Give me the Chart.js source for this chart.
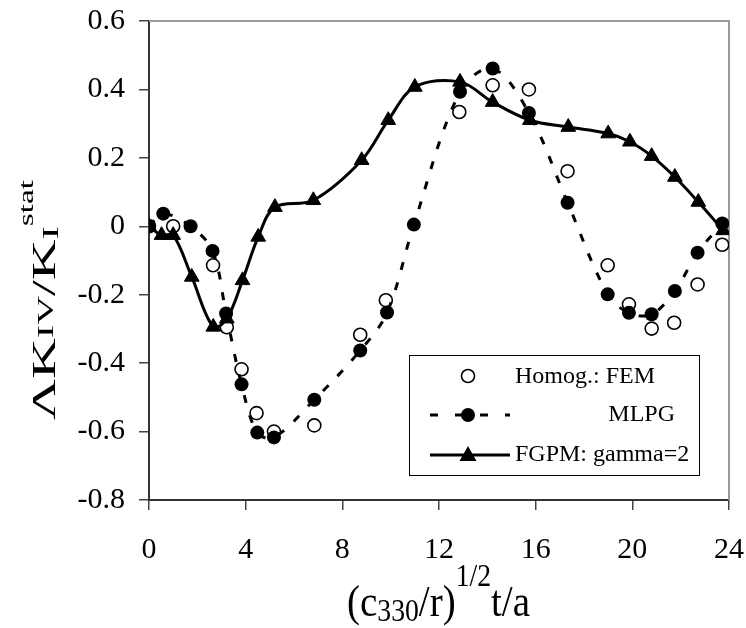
<!DOCTYPE html>
<html>
<head>
<meta charset="utf-8">
<script src="https://cdn.jsdelivr.net/npm/chart.js@4.4.1/dist/chart.umd.min.js"></script>
<style>
  html, body { margin: 0; padding: 0; background: #fff; }
  #wrap { width: 746px; height: 628px; }
</style>
</head>
<body>
<div id="wrap"><canvas id="chart" width="746" height="628"></canvas></div>
<script>
// ---- data ----
const femX = [0, 1.0, 2.65, 3.22, 3.83, 4.45, 5.17, 6.84, 8.74, 9.8, 12.84, 14.22, 15.72, 17.32, 18.98, 19.86, 20.8, 21.73, 22.7, 23.72];
const femY = [0, 0, -0.114, -0.295, -0.418, -0.546, -0.6, -0.582, -0.317, -0.216, 0.334, 0.412, 0.40, 0.161, -0.114, -0.228, -0.299, -0.282, -0.17, -0.054];

const mlpgX = [0, 0.59, 1.72, 2.63, 3.19, 3.83, 4.48, 5.17, 6.84, 8.74, 9.85, 10.96, 12.87, 14.22, 15.72, 17.32, 18.98, 19.86, 20.8, 21.76, 22.7, 23.72];
const mlpgY = [0, 0.037, 0, -0.072, -0.255, -0.462, -0.603, -0.617, -0.507, -0.363, -0.252, 0.005, 0.393, 0.461, 0.331, 0.069, -0.199, -0.253, -0.257, -0.189, -0.077, 0.008];

const fgpmX = [0, 0.52, 1.0, 1.77, 2.66, 3.22, 3.87, 4.52, 5.21, 6.8, 8.8, 9.9, 11.0, 12.87, 14.22, 15.76, 17.35, 19.0, 19.9, 20.8, 21.76, 22.73, 23.76];
const fgpmY = [0, -0.026, -0.026, -0.148, -0.294, -0.27, -0.158, -0.031, 0.056, 0.076, 0.193, 0.31, 0.407, 0.422, 0.363, 0.31, 0.29, 0.271, 0.247, 0.205, 0.144, 0.071, -0.012];

const legendLabels = ['Homog.: FEM', 'MLPG', 'FGPM: gamma=2'];

const SERIF = '"Liberation Serif", "Times New Roman", serif';

function pts(xs, ys) {
    return xs.map((x, i) => ({ x: x, y: ys[i] }));
}

// draws a run of text pieces [text, sizeFactor, baselineShift] starting at x=0 on the current baseline
function drawPieces(ctx, pieces, base) {
    let x = 0;
    pieces.forEach(p => {
        ctx.font = Math.round(base * p[1]) + 'px ' + SERIF;
        ctx.fillText(p[0], x, p[2]);
        x += ctx.measureText(p[0]).width;
    });
    return x;
}
function piecesWidth(ctx, pieces, base) {
    let w = 0;
    pieces.forEach(p => {
        ctx.font = Math.round(base * p[1]) + 'px ' + SERIF;
        w += ctx.measureText(p[0]).width;
    });
    return w;
}

const decor = {
    id: 'decor',
    beforeDatasetsDraw(chart) {
        const ctx = chart.ctx;
        const a = chart.chartArea;
        // light frame on top and right of plot area
        ctx.save();
        ctx.strokeStyle = '#9a9a9a';
        ctx.lineWidth = 2;
        ctx.beginPath();
        ctx.moveTo(a.left, a.top);
        ctx.lineTo(a.right, a.top);
        ctx.lineTo(a.right, a.bottom);
        ctx.stroke();
        ctx.restore();
    },
    afterDraw(chart) {
        const ctx = chart.ctx;
        ctx.save();
        ctx.fillStyle = '#000';
        ctx.textBaseline = 'alphabetic';
        ctx.textAlign = 'left';

        // x axis title
        const xt = [['(c', 1, 0], ['330', 0.72, 4], ['/r)', 1, 0], ['1/2', 0.72, -26], ['t/a', 1, 0]];
        const xw = piecesWidth(ctx, xt, 38);
        ctx.save();
        ctx.translate(347, 616);
        ctx.scale(183 / xw, 1.15);
        drawPieces(ctx, xt, 38);
        ctx.restore();

        // y axis title, rotated
        const yt = [['\u039BK', 1, 0], ['IV', 0.7, -2], ['/K', 1, 0], ['I', 0.7, 3], ['stat', 0.6, -22]];
        const yw = piecesWidth(ctx, yt, 34);
        ctx.save();
        ctx.translate(55, 420);
        ctx.rotate(-Math.PI / 2);
        ctx.scale(240 / yw, 1);
        drawPieces(ctx, yt, 34);
        ctx.restore();

        // legend box
        const lx = 409, ly = 355, lw = 290, lh = 120;
        ctx.fillStyle = '#fff';
        ctx.fillRect(lx, ly, lw, lh);
        ctx.strokeStyle = '#000';
        ctx.lineWidth = 1;
        ctx.strokeRect(lx + 0.5, ly + 0.5, lw, lh);

        const mx = 468;
        const rows = [376, 415, 455];
        // row 1: open circle
        ctx.beginPath();
        ctx.arc(mx, rows[0], 6.5, 0, Math.PI * 2);
        ctx.fillStyle = '#fff';
        ctx.fill();
        ctx.lineWidth = 1.6;
        ctx.strokeStyle = '#000';
        ctx.stroke();
        // row 2: dashed line + filled circle
        ctx.beginPath();
        ctx.setLineDash([8, 17]);
        ctx.lineWidth = 3;
        ctx.moveTo(430, rows[1]);
        ctx.lineTo(510, rows[1]);
        ctx.stroke();
        ctx.setLineDash([]);
        ctx.beginPath();
        ctx.arc(mx, rows[1], 7, 0, Math.PI * 2);
        ctx.fillStyle = '#000';
        ctx.fill();
        // row 3: solid line + triangle
        ctx.beginPath();
        ctx.lineWidth = 3;
        ctx.moveTo(430, rows[2]);
        ctx.lineTo(510, rows[2]);
        ctx.stroke();
        ctx.beginPath();
        ctx.moveTo(mx, rows[2] - 9);
        ctx.lineTo(mx + 8.5, rows[2] + 6);
        ctx.lineTo(mx - 8.5, rows[2] + 6);
        ctx.closePath();
        ctx.fill();

        ctx.font = '24px ' + SERIF;
        ctx.fillStyle = '#000';
        ctx.fillText(legendLabels[0], 515, 383);
        ctx.textAlign = 'right';
        ctx.fillText(legendLabels[1], 675, 421);
        ctx.textAlign = 'left';
        ctx.fillText(legendLabels[2], 515, 461);
        ctx.restore();
    }
};

const ctx = document.getElementById('chart').getContext('2d');
new Chart(ctx, {
    type: 'scatter',
    data: {
        datasets: [
            {
                label: legendLabels[2],
                data: pts(fgpmX, fgpmY),
                showLine: true,
                borderColor: '#000',
                borderWidth: 3,
                tension: 0.35,
                pointStyle: 'triangle',
                pointRadius: 8.5,
                pointBackgroundColor: '#000',
                pointBorderColor: '#000',
                pointBorderWidth: 1,
                order: 0
            },
            {
                label: legendLabels[1],
                data: pts(mlpgX, mlpgY),
                showLine: true,
                borderColor: '#000',
                borderWidth: 3,
                borderDash: [8, 13],
                tension: 0.35,
                pointStyle: 'circle',
                pointRadius: 7,
                pointBackgroundColor: '#000',
                pointBorderColor: '#000',
                pointBorderWidth: 0,
                order: 1
            },
            {
                label: legendLabels[0],
                data: pts(femX, femY),
                showLine: false,
                pointStyle: 'circle',
                pointRadius: 6.5,
                pointBackgroundColor: '#fff',
                pointBorderColor: '#000',
                pointBorderWidth: 1.6,
                order: 2
            }
        ]
    },
    options: {
        responsive: false,
        devicePixelRatio: 1,
        animation: false,
        layout: { padding: { top: 21, right: 17, left: 0, bottom: 0 } },
        plugins: {
            legend: { display: false },
            tooltip: { enabled: false }
        },
        scales: {
            x: {
                type: 'linear',
                min: 0,
                max: 24,
                afterFit: (s) => { s.height = 128; s.paddingLeft = 0; s.paddingRight = 0; },
                ticks: {
                    stepSize: 4,
                    color: '#000',
                    padding: 22,
                    font: { family: SERIF, size: 30 }
                },
                grid: { drawOnChartArea: false, tickLength: 10, color: '#444', lineWidth: 1.5 },
                border: { color: '#333', width: 2 }
            },
            y: {
                type: 'linear',
                min: -0.8,
                max: 0.6,
                afterFit: (s) => { s.width = 149; s.paddingTop = 0; s.paddingBottom = 0; },
                ticks: {
                    stepSize: 0.2,
                    color: '#000',
                    padding: 14,
                    font: { family: SERIF, size: 30 },
                    callback: (v) => String(Number(v.toFixed(1)))
                },
                grid: { drawOnChartArea: false, tickLength: 10, color: '#444', lineWidth: 1.5 },
                border: { color: '#333', width: 2 }
            }
        }
    },
    plugins: [decor]
});
</script>
</body>
</html>
